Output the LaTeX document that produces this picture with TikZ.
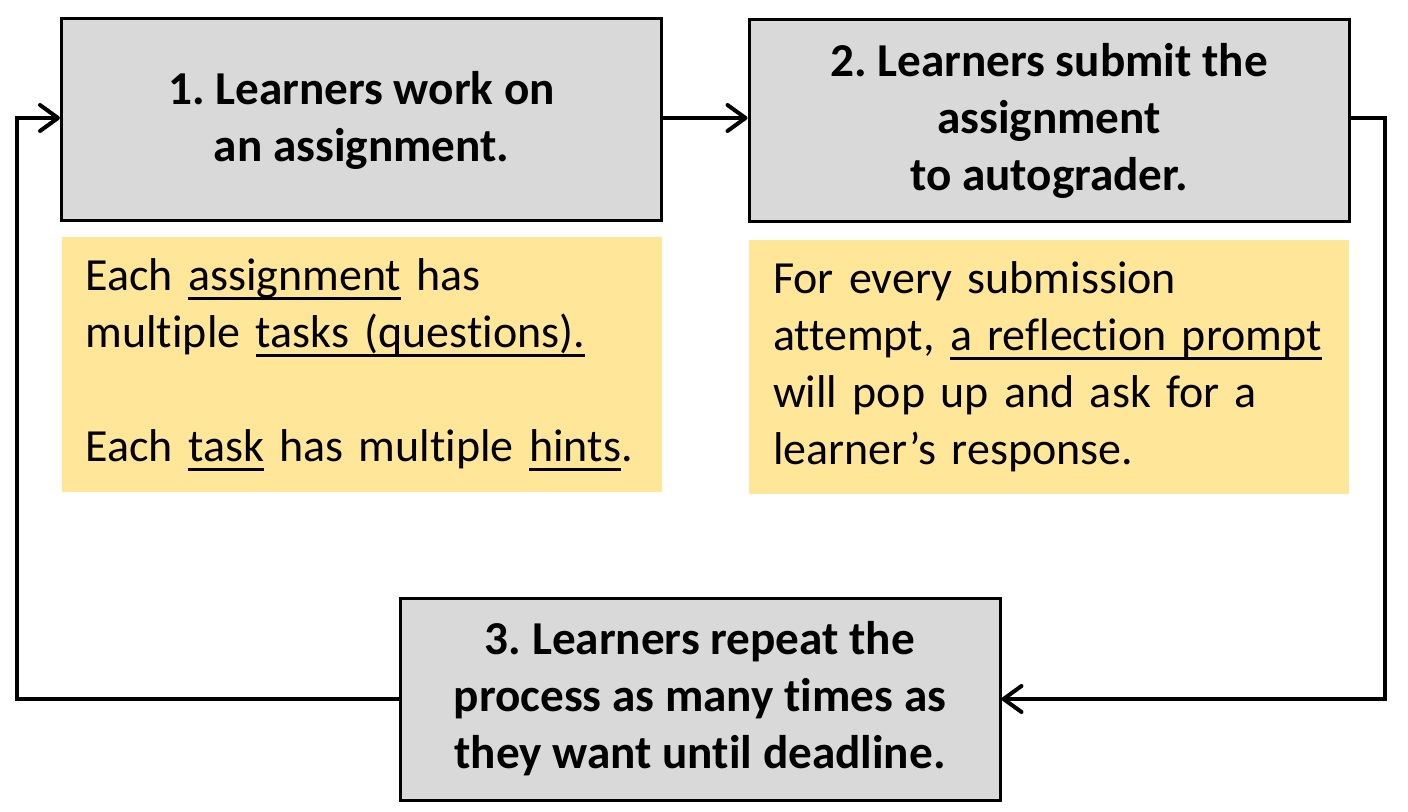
\documentclass[tikz,border=0pt]{standalone}
\usepackage{fontspec}
\setmainfont{Carlito}[Ligatures=NoCommon]
\usetikzlibrary{arrows.meta}
\definecolor{stepgray}{HTML}{D9D9D9}
\definecolor{noteyellow}{HTML}{FFE699}
\frenchspacing
% underline at a fixed depth below the baseline
\newcommand\undl[1]{\setbox0\hbox{#1}\rlap{\rule[-4.6pt]{\wd0}{1.4pt}}\box0\relax}
\begin{document}
\begin{tikzpicture}[x=0.5pt,y=-0.5pt,
  stepbox/.style={draw=black, line width=1.5pt, fill=stepgray,
    minimum width=300pt, minimum height=101pt, align=center,
    font=\fontsize{23.6}{28.5}\selectfont\bfseries},
  notebox/.style={fill=noteyellow, text width=276pt, inner xsep=12pt,
    minimum height=127pt, align=left,
    font=\fontsize{23}{28.5}\selectfont},
  flow/.style={line width=2pt, -{Straight Barb[length=9pt,width=13pt,line cap=round,line join=round]}}]
\useasboundingbox (0,0) rectangle (1408,812);

% process steps
\node[stepbox] (s1) at (361.5,120) {1. Learners work on\\an assignment.};
\node[stepbox] (s2) at (1049,121) {2. Learners submit the\\assignment\\to autograder.};
\node[stepbox] (s3) at (700,699) {3. Learners repeat the\\process as many times as\\they want until deadline.};

% notes under the first two steps
\node[notebox] (n1) at (361.5,364.5) {Each \undl{assignment} has\\multiple \undl{tasks (questions).}\\\mbox{}\\Each \undl{task} has multiple \undl{hints}.};
\node[notebox] (n2) at (1049,367) {For every submission\\attempt, \undl{a reflection prompt}\\will pop up and ask for a\\learner’s response.};

% loop connectors
\coordinate (rc) at (1385,699);
\coordinate (lc) at (17,699);
\draw[flow] (s1.east |- 0,118) -- (s2.west |- 0,118);
\draw[flow] (s2.east |- 0,118) -| (rc) -- (s3.east);
\draw[flow] (s3.west) -- (lc) |- (s1.west |- 0,118);
\end{tikzpicture}
\end{document}
